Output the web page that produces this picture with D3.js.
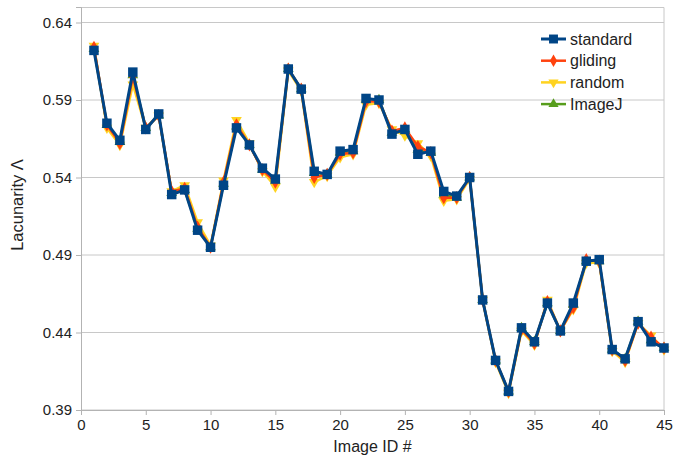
<!DOCTYPE html>
<html>
<head>
<meta charset="utf-8">
<script src="https://cdn.jsdelivr.net/npm/d3@7"></script>
<style>
  body { margin: 0; background: #fff; }
  svg text { font-family: "Liberation Sans", Arial, sans-serif; fill: #222; }
</style>
</head>
<body>
<svg id="chart" width="675" height="455"></svg>
<script>
// ======================
// DATA
// ======================

const imageIds = d3.range(1, 46);

const standard = [
    0.622, 0.575, 0.564, 0.608, 0.571, 0.581, 0.529, 0.532, 0.506, 0.495,
    0.535, 0.572, 0.561, 0.546, 0.539, 0.610, 0.597, 0.544, 0.542, 0.557,
    0.558, 0.591, 0.590, 0.568, 0.571, 0.555, 0.557, 0.531, 0.528, 0.540,
    0.461, 0.422, 0.402, 0.443, 0.434, 0.459, 0.441, 0.459, 0.486, 0.487,
    0.429, 0.423, 0.447, 0.434, 0.430
];
const gliding = [
    0.624, 0.574, 0.562, 0.605, 0.572, 0.580, 0.531, 0.533, 0.508, 0.495,
    0.537, 0.574, 0.561, 0.545, 0.537, 0.610, 0.597, 0.540, 0.542, 0.555,
    0.556, 0.589, 0.589, 0.570, 0.572, 0.560, 0.556, 0.527, 0.527, 0.540,
    0.461, 0.422, 0.402, 0.442, 0.433, 0.460, 0.441, 0.456, 0.487, 0.486,
    0.429, 0.422, 0.446, 0.437, 0.430
];
const random = [
    0.625, 0.572, 0.561, 0.600, 0.572, 0.580, 0.531, 0.535, 0.511, 0.496,
    0.538, 0.577, 0.562, 0.544, 0.534, 0.609, 0.596, 0.537, 0.541, 0.553,
    0.555, 0.587, 0.588, 0.571, 0.567, 0.562, 0.554, 0.525, 0.526, 0.539,
    0.461, 0.421, 0.401, 0.441, 0.432, 0.461, 0.441, 0.455, 0.485, 0.485,
    0.428, 0.421, 0.446, 0.438, 0.429
];
const imagej = [
    0.623, 0.574, 0.563, 0.606, 0.572, 0.580, 0.530, 0.532, 0.507, 0.495,
    0.536, 0.573, 0.561, 0.545, 0.538, 0.610, 0.597, 0.543, 0.542, 0.556,
    0.557, 0.590, 0.590, 0.569, 0.571, 0.558, 0.556, 0.529, 0.527, 0.540,
    0.461, 0.422, 0.402, 0.443, 0.434, 0.459, 0.441, 0.458, 0.486, 0.486,
    0.429, 0.423, 0.447, 0.435, 0.430
];

const seriesNames = ["standard", "gliding", "random", "ImageJ"];
const seriesValues = [standard, gliding, random, imagej];
const seriesColors = ["#004586", "#ff420e", "#ffd320", "#579d1c"];
const seriesSymbols = [d3.symbolSquare, d3.symbolDiamond, d3.symbolTriangle, d3.symbolTriangle];

const xTicks = [0, 5, 10, 15, 20, 25, 30, 35, 40, 45];
const yTicks = [0.39, 0.44, 0.49, 0.54, 0.59, 0.64];

// ======================
// SETUP
// ======================

const svg = d3.select("#chart");
const margin = { top: 7, right: 11, bottom: 45, left: 81 };
const width = 675, height = 455;
const innerW = width - margin.left - margin.right;
const innerH = height - margin.top - margin.bottom;

const g = svg.append("g")
    .attr("transform", `translate(${margin.left},${margin.top})`);

const x = d3.scaleLinear().domain([0, 45]).range([0, innerW]);
const y = d3.scaleLinear().domain([0.39, 0.65]).range([innerH, 0]);

// gridlines
g.selectAll(".grid")
    .data(yTicks)
    .enter()
    .append("line")
    .attr("x1", 0)
    .attr("x2", innerW)
    .attr("y1", d => y(d))
    .attr("y2", d => y(d))
    .attr("stroke", "#c8c8c8")
    .attr("stroke-width", 1);

// plot border (top & right)
g.append("path")
    .attr("d", `M0,0.5H${innerW}V${innerH}`)
    .attr("fill", "none")
    .attr("stroke", "#c8c8c8");

const xAxisG = g.append("g")
    .attr("transform", `translate(0,${innerH})`)
    .call(d3.axisBottom(x).tickValues(xTicks).tickSize(5).tickPadding(4));
const yAxisG = g.append("g")
    .call(d3.axisLeft(y).tickValues(yTicks).tickFormat(d3.format(".2f")).tickSize(5).tickPadding(4));

[xAxisG, yAxisG].forEach(ax => {
    ax.selectAll("path, line").attr("stroke", "#b3b3b3");
    ax.selectAll("text").attr("font-size", 15).style("fill", "#222");
});

// axis titles
svg.append("text")
    .attr("x", margin.left + innerW / 2)
    .attr("y", 452)
    .attr("text-anchor", "middle")
    .attr("font-size", 16)
    .text("Image ID #");

svg.append("text")
    .attr("transform", "rotate(-90)")
    .attr("x", -205)
    .attr("y", 23)
    .attr("text-anchor", "middle")
    .attr("font-size", 16.5)
    .text("Lacunarity Λ");

// ======================
// SERIES (draw ImageJ first, standard on top)
// ======================

const line = d3.line()
    .x((d, i) => x(imageIds[i]))
    .y(d => y(d));

[3, 2, 1, 0].forEach(k => {
    const vals = seriesValues[k];
    const isStd = k === 0;
    g.append("path")
        .datum(vals)
        .attr("fill", "none")
        .attr("stroke", seriesColors[k])
        .attr("stroke-width", isStd ? 3 : 2.5)
        .attr("stroke-linejoin", "round")
        .attr("d", line);

    const sym = d3.symbol().type(seriesSymbols[k]).size(isStd ? 90 : 50);
    g.selectAll(`.pt${k}`)
        .data(vals)
        .enter()
        .append("path")
        .attr("class", `pt${k}`)
        .attr("d", sym)
        .attr("fill", seriesColors[k])
        .attr("transform", (d, i) => {
            const rot = k === 2 ? " rotate(180)" : "";
            return `translate(${x(imageIds[i])},${y(d)})${rot}`;
        });
});

// ======================
// LEGEND
// ======================

const legend = svg.append("g")
    .attr("transform", "translate(541,39)");

const items = legend.selectAll(".legend-item")
    .data(seriesNames)
    .enter()
    .append("g")
    .attr("transform", (d, i) => `translate(0,${i * 21.7})`);

items.append("line")
    .attr("x1", 0)
    .attr("x2", 25)
    .attr("stroke", (d, i) => seriesColors[i])
    .attr("stroke-width", (d, i) => i === 0 ? 3 : 2.5);

items.append("path")
    .attr("d", (d, i) => d3.symbol().type(seriesSymbols[i]).size(i === 0 ? 80 : 45)())
    .attr("fill", (d, i) => seriesColors[i])
    .attr("transform", (d, i) => `translate(12.5,0)${i === 2 ? " rotate(180)" : ""}`);

items.append("text")
    .attr("x", 29)
    .attr("dy", "0.35em")
    .attr("font-size", 16)
    .text(d => d);
</script>
</body>
</html>
